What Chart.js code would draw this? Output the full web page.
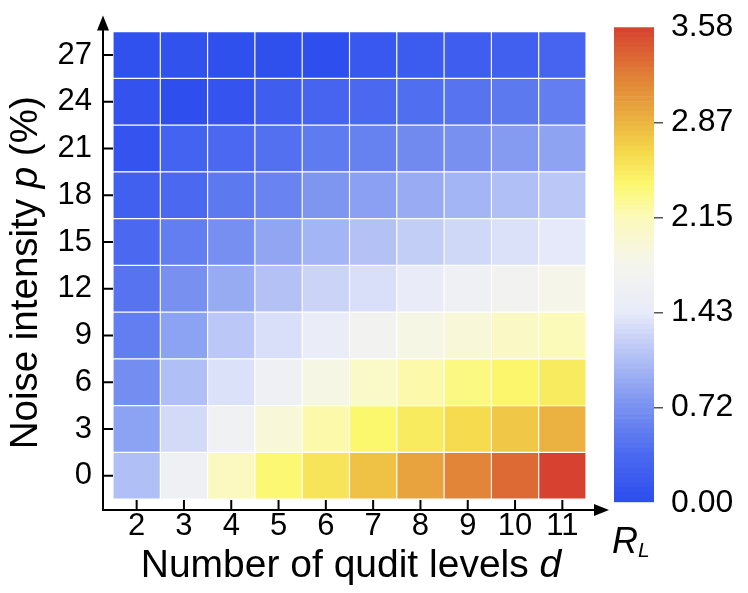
<!DOCTYPE html>
<html><head><meta charset="utf-8">
<script src="https://cdn.jsdelivr.net/npm/chart.js@4.4.0/dist/chart.umd.min.js"></script>
<style>
html,body{margin:0;padding:0;background:#fff;}
#wrap{position:relative;width:748px;height:593px;background:#fff;}
#main{position:absolute;left:0;top:0;}
#cbar{position:absolute;left:600px;top:0;}
</style></head><body>
<div id="wrap"><canvas id="main" width="748" height="593"></canvas><canvas id="cbar" width="148" height="593"></canvas></div>
<script>
// ---- data ----
const dLevels  = [2, 3, 4, 5, 6, 7, 8, 9, 10, 11];
const noisePct = [0, 3, 6, 9, 12, 15, 18, 21, 24, 27];
// R_L values, one array per noise intensity p (%), ordered by d = 2..11
const rl_p0  = [1.08, 1.60, 2.10, 2.38, 2.55, 2.78, 2.98, 3.18, 3.35, 3.584];
const rl_p3  = [0.85, 1.30, 1.65, 1.95, 2.20, 2.40, 2.50, 2.62, 2.75, 2.88];
const rl_p6  = [0.68, 1.08, 1.35, 1.60, 1.85, 2.05, 2.20, 2.33, 2.42, 2.50];
const rl_p9  = [0.55, 0.85, 1.15, 1.34, 1.50, 1.70, 1.85, 1.95, 2.07, 2.15];
const rl_p12 = [0.45, 0.72, 0.92, 1.10, 1.25, 1.34, 1.45, 1.60, 1.72, 1.82];
const rl_p15 = [0.35, 0.55, 0.70, 0.88, 1.00, 1.10, 1.20, 1.28, 1.35, 1.42];
const rl_p18 = [0.25, 0.36, 0.50, 0.60, 0.76, 0.84, 0.93, 1.00, 1.08, 1.15];
const rl_p21 = [0.10, 0.28, 0.36, 0.42, 0.52, 0.57, 0.65, 0.72, 0.80, 0.86];
const rl_p24 = [0.08, 0.03, 0.10, 0.22, 0.30, 0.35, 0.40, 0.45, 0.50, 0.55];
const rl_p27 = [0.06, 0.07, 0.05, 0.05, 0.02, 0.15, 0.18, 0.22, 0.25, 0.30];
const rlRows = [rl_p0, rl_p3, rl_p6, rl_p9, rl_p12, rl_p15, rl_p18, rl_p21, rl_p24, rl_p27];
const rlMin = 0.0;
const rlMax = 3.584;
const cbTicks = [0, 0.7168, 1.4336, 2.1504, 2.8672, 3.584];

// ---- colormap (blue -> white -> yellow -> red), positions as fraction of range ----
const cmapFrac = [
  [0.000, [44, 76, 238]],
  [0.100, [75, 105, 240]],
  [0.200, [120, 145, 240]],
  [0.300, [175, 190, 245]],
  [0.400, [232, 235, 250]],
  [0.500, [245, 245, 238]],
  [0.600, [252, 250, 185]],
  [0.670, [252, 248, 110]],
  [0.740, [245, 215, 75]],
  [0.800, [235, 180, 65]],
  [0.893, [225, 130, 55]],
  [1.000, [215, 65, 48]]
];
function cmap(v) {
  let t = (v - rlMin) / (rlMax - rlMin);
  t = Math.max(0, Math.min(1, t));
  for (let i = 1; i < cmapFrac.length; i++) {
    const [t1, c1] = cmapFrac[i], [t0, c0] = cmapFrac[i - 1];
    if (t <= t1) {
      const f = (t - t0) / (t1 - t0);
      const c = c0.map((a, k) => Math.round(a + (c1[k] - a) * f));
      return `rgb(${c[0]},${c[1]},${c[2]})`;
    }
  }
  const c = cmapFrac[cmapFrac.length - 1][1];
  return `rgb(${c[0]},${c[1]},${c[2]})`;
}

const FONT = "'Liberation Sans', Helvetica, Arial, sans-serif";
const pStep = noisePct[1] - noisePct[0];

// ---- main heatmap ----
const datasets = noisePct.map((p, i) => ({
  data: dLevels.map(d => ({ x: d, y: [p - pStep / 2, p + pStep / 2] })),
  backgroundColor: rlRows[i].map(cmap),
  borderColor: '#ffffff',
  borderWidth: 0.9,
  borderSkipped: false,
  grouped: false,
  barPercentage: 1,
  categoryPercentage: 1
}));

const axesDeco = {
  id: 'axesDeco',
  afterDraw(chart) {
    const { ctx, chartArea: a, scales: { x, y } } = chart;
    ctx.save();
    ctx.strokeStyle = '#000';
    ctx.fillStyle = '#000';
    ctx.lineWidth = 2;
    // axis lines
    ctx.beginPath();
    ctx.moveTo(a.left, a.top);
    ctx.lineTo(a.left, a.bottom);
    ctx.lineTo(a.right, a.bottom);
    ctx.stroke();
    // arrows
    ctx.beginPath();
    ctx.moveTo(a.left, a.top - 14);
    ctx.lineTo(a.left - 6, a.top + 1);
    ctx.lineTo(a.left + 6, a.top + 1);
    ctx.closePath();
    ctx.fill();
    ctx.beginPath();
    ctx.moveTo(a.right + 12, a.bottom);
    ctx.lineTo(a.right - 3, a.bottom - 6);
    ctx.lineTo(a.right - 3, a.bottom + 6);
    ctx.closePath();
    ctx.fill();
    // inward ticks
    ctx.beginPath();
    y.ticks.forEach(t => {
      const py = y.getPixelForValue(t.value);
      ctx.moveTo(a.left, py); ctx.lineTo(a.left + 10, py);
    });
    x.ticks.forEach(t => {
      const px = x.getPixelForValue(t.value);
      ctx.moveTo(px, a.bottom); ctx.lineTo(px, a.bottom - 10);
    });
    ctx.stroke();

    // axis titles
    function drawParts(parts, size) {
      let w = 0;
      parts.forEach(pt => { ctx.font = `${pt[1] ? 'italic ' : ''}${size}px ${FONT}`; pt.w = ctx.measureText(pt[0]).width; w += pt.w; });
      let cx = -w / 2;
      parts.forEach(pt => { ctx.font = `${pt[1] ? 'italic ' : ''}${size}px ${FONT}`; ctx.fillText(pt[0], cx, 0); cx += pt.w; });
    }
    ctx.textAlign = 'left';
    ctx.textBaseline = 'alphabetic';
    ctx.save();
    ctx.translate((a.left + a.right) / 2 + 1, 577);
    drawParts([['Number of qudit levels ', false], ['d', true]], 39);
    ctx.restore();
    ctx.save();
    ctx.translate(37, (a.top + a.bottom) / 2 + 3);
    ctx.rotate(-Math.PI / 2);
    drawParts([['Noise intensity ', false], ['p', true], [' (%)', false]], 38.5);
    ctx.restore();
    // colorbar label R_L
    ctx.font = `italic 36px ${FONT}`;
    ctx.fillText('R', 612, 553);
    ctx.font = `italic 21px ${FONT}`;
    ctx.fillText('L', 638, 557);
    ctx.restore();
  }
};

new Chart(document.getElementById('main'), {
  type: 'bar',
  data: { datasets },
  options: {
    responsive: false,
    animation: false,
    events: [],
    layout: { padding: { left: 0, top: 24, right: 151, bottom: 0 } },
    plugins: { legend: { display: false }, tooltip: { enabled: false } },
    scales: {
      x: {
        type: 'linear',
        offset: false,
        min: 1.2886, max: 11.7326,
        afterBuildTicks: s => { s.ticks = dLevels.map(v => ({ value: v })); },
        afterFit: s => { s.height = 83; },
        grid: { display: false, drawTicks: false, offset: false },
        border: { display: false },
        ticks: { color: '#000', font: { family: FONT, size: 31, lineHeight: 1 }, padding: 1, autoSkip: false, maxRotation: 0 }
      },
      y: {
        type: 'linear',
        offset: false,
        min: -2.198, max: 28.627,
        afterBuildTicks: s => { s.ticks = noisePct.map(v => ({ value: v })); },
        afterFit: s => { s.width = 103; },
        grid: { display: false, drawTicks: false },
        border: { display: false },
        ticks: { color: '#000', font: { family: FONT, size: 31 }, padding: 11, autoSkip: false }
      }
    }
  },
  plugins: [axesDeco]
});

// ---- colorbar ----
const cbN = 96;
const cbDatasets = Array.from({ length: cbN }, (_, i) => {
  const lo = rlMin + (rlMax - rlMin) * i / cbN, hi = rlMin + (rlMax - rlMin) * (i + 1) / cbN;
  return {
    data: [[lo, hi]],
    backgroundColor: cmap((lo + hi) / 2),
    borderWidth: 0,
    grouped: false,
    barPercentage: 1,
    categoryPercentage: 1
  };
});
new Chart(document.getElementById('cbar'), {
  type: 'bar',
  data: { labels: [''], datasets: cbDatasets },
  options: {
    responsive: false,
    animation: false,
    events: [],
    layout: { padding: { left: 14, top: 24, right: 0, bottom: 90.3 } },
    plugins: { legend: { display: false }, tooltip: { enabled: false } },
    scales: {
      x: { type: 'category', display: false },
      y: {
        position: 'right',
        min: rlMin, max: rlMax,
        afterBuildTicks: s => { s.ticks = cbTicks.map(v => ({ value: v })); },
        afterFit: s => { s.width = 94; },
        border: { display: false },
        grid: {
          drawOnChartArea: false, drawTicks: true, tickLength: 9, lineWidth: 1.5,
          color: c => (c.index === 0 || c.index === cbTicks.length - 1) ? 'rgba(0,0,0,0)' : '#555'
        },
        ticks: { color: '#000', font: { family: FONT, size: 32 }, padding: 8, autoSkip: false, callback: v => Number(v).toFixed(2) }
      }
    }
  }
});
</script>
</body></html>
